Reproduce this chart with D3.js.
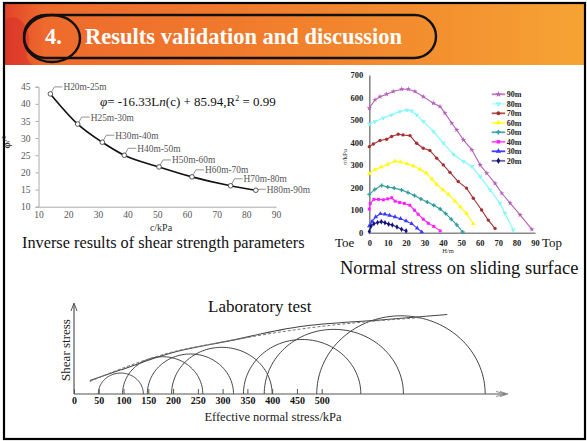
<html>
<head>
  <script src="https://d3js.org/d3.v7.min.js"></script>
  <style>
  body{ margin:0; background:#fff; }
  svg{ display:block; }
  text{ font-family:"Liberation Serif", "Times New Roman", serif; }
  </style>
</head>
<body>
<svg id="slide" width="587" height="441"></svg>
<script type="text/javascript">
    // --- inverse results (left chart) ---
    var layers = ["H20m-25m","H25m-30m","H30m-40m","H40m-50m","H50m-60m","H60m-70m","H70m-80m","H80m-90m"];
    var cohesion = [14, 23.2, 31.5, 38.9, 50.6, 61.7, 74.7, 83.2];
    var phi = [42.9, 34.1, 28.8, 25.0, 21.6, 18.7, 16.1, 14.8];
    var phiTicks = [10, 15, 20, 25, 30, 35, 40, 45];
    var cTicks = [10, 20, 30, 40, 50, 60, 70, 80, 90];

    // --- normal stress on sliding surface (right chart), [H, sigma] ---
    var seriesNames = ["90m","80m","70m","60m","50m","40m","30m","20m"];
    var s90 = [[0,553],[3.1,590],[5.8,604],[9.4,615],[13,627],[17.6,637],[21.2,637],[24.8,627],[29.3,604],[34.8,575],[38.4,560],[41.1,531],[44.8,486],[47.5,456],[51.1,412],[55.7,368],[60.2,301],[63.8,264],[68.3,219],[72,175],[76.5,131],[81.9,79],[88.3,15]];
    var s80 = [[0,483],[3.1,494],[7.6,509],[12.1,523],[16.6,538],[20.4,545],[23,540],[25.7,523],[29.3,494],[34.8,450],[40.2,399],[45.7,347],[51.1,316],[55.7,294],[60.2,249],[65.6,190],[71,131],[73.7,86],[78.2,12]];
    var s70 = [[0,382],[2.2,394],[5.8,409],[9.4,415],[12.1,427],[15.7,437],[18.3,434],[22.1,431],[25.7,397],[29.3,375],[32.9,365],[36.6,331],[40.2,301],[43.8,268],[48.3,227],[52.8,198],[56.5,153],[61,101],[64.6,56],[68.3,19]];
    var s60 = [[0,262],[3,280],[6.5,292],[10,303],[14,318],[17,314],[20.5,306],[24,296],[27.5,282],[31,264],[34,238],[36.6,214],[40,190],[43,170],[46.5,140],[49.5,114],[52.8,85],[56.5,40]];
    var s50 = [[0,170],[3,192],[6.7,210],[10,203],[13.5,198],[17.5,190],[21,178],[24.5,165],[28,150],[31.5,136],[35,122],[38.5,105],[41.5,85],[44.5,60],[47.5,35],[50.7,3]];
    var s40 = [[0,105],[0.5,130],[2.5,148],[5,148],[7.6,146],[10,150],[12.2,155],[14,140],[16.5,134],[19,130],[22,122],[24.5,100],[26.5,82],[29.3,60],[32,42],[35,28],[38.5,8]];
    var s30 = [[0,30],[1.5,50],[3.5,70],[6,84],[8.5,82],[11,77],[14,70],[17,62],[20,52],[23,40],[26,20],[28.5,3]];
    var s20 = [[0,5],[1,30],[2.5,40],[4.5,45],[6.5,49],[8.5,44],[10.5,38],[12.5,34],[15,25],[17.5,15],[20,8]];
    var hTicks = [0, 10, 20, 30, 40, 50, 60, 70, 80, 90];
    var sigmaTicks = [0, 100, 200, 300, 400, 500, 600, 700];

    // --- laboratory test (bottom chart), Mohr circles in kPa ---
    var sigma3 = [49, 98, 148, 197, 342, 384, 490];
    var sigma1 = [140, 260, 322, 400, 579, 665, 830];
    var envelope = [[32,29.5],[93,52],[194,88.6],[315,116],[456.6,146.6],[618,161],[753.5,172.7]];
    var envelope2 = [[32,27],[100,57],[194,90],[300,113],[456,141],[600,158],[700,166]];
    var normalTicks = [0, 50, 100, 150, 200, 250, 300, 350, 400, 450, 500];

    var seriesData = [s90, s80, s70, s60, s50, s40, s30, s20];
    var seriesColor = ["#b461b8","#7ff9fb","#a33232","#ffff00","#339c9c","#ff1fff","#3b3bff","#14147a"];
    var legendColor = ["#c07fc4","#b8ffff","#b85252","#ffff40","#4aa8a8","#ff55ff","#4040ff","#6666aa"];
    var seriesSymbol = [d3.symbolStar, d3.symbolWye, d3.symbolCircle, d3.symbolTriangle,
                        d3.symbolCross, d3.symbolSquare, d3.symbolTriangle, d3.symbolDiamond];

    var svg = d3.select("#slide");

    // slide header
    var defs = svg.append("defs");
    var grad = defs.append("linearGradient").attr("id","hdr");
    grad.append("stop").attr("offset","0").attr("stop-color","#e2432a");
    grad.append("stop").attr("offset","0.07").attr("stop-color","#ee6a2c");
    grad.append("stop").attr("offset","0.4").attr("stop-color","#f07a2c");
    grad.append("stop").attr("offset","0.75").attr("stop-color","#f3902f");
    grad.append("stop").attr("offset","1").attr("stop-color","#f6a434");

    svg.append("rect").attr("x",4).attr("y",3).attr("width",581).attr("height",62)
       .attr("fill","url(#hdr)");
    svg.append("path")
       .attr("d","M5,20 C18,10 34,30 28,48 C24,58 30,64 34,65 L5,65 Z")
       .attr("fill","#d9302a").attr("opacity",0.55);
    svg.append("rect").attr("x",24).attr("y",15).attr("width",412).attr("height",43).attr("rx",21.5)
       .attr("fill","none").attr("stroke","#111").attr("stroke-width",2.4);
    svg.append("ellipse").attr("cx",52).attr("cy",38.5).attr("rx",28).attr("ry",23.5)
       .attr("fill","none").attr("stroke","#111").attr("stroke-width",2.4);
    svg.append("text").attr("x",45).attr("y",44).text("4.")
       .attr("fill","#fff").style("font-size","22.5px").style("font-weight","bold");
    svg.append("text").attr("x",85).attr("y",44).text("Results validation and discussion")
       .attr("fill","#fff").style("font-size","22.5px").style("font-weight","bold");

    // ---------------- left chart ----------------
    var xL = d3.scaleLinear().domain([10, 90]).range([38.5, 276]);
    var yL = d3.scaleLinear().domain([10, 45]).range([206.7, 86.7]);

    var gl = svg.append("g");
    gl.append("g").attr("transform","translate(0,206.7)")
      .call(d3.axisBottom(xL).tickValues(cTicks).tickSize(0).tickPadding(5));
    gl.append("g").attr("transform","translate(38.5,0)")
      .call(d3.axisLeft(yL).tickValues(phiTicks).tickSize(3).tickPadding(5));
    gl.selectAll(".domain").attr("stroke","#aaa");
    gl.selectAll(".tick line").attr("stroke","#aaa");
    gl.selectAll(".tick text").attr("fill","#555")
      .style("font-size","9.5px").style("font-family","Liberation Serif");

    var pts = cohesion.map(function(c,i){ return [c, phi[i]]; });
    gl.append("path").datum(pts)
      .attr("d", d3.line().x(function(d){ return xL(d[0]); }).y(function(d){ return yL(d[1]); })
                 .curve(d3.curveMonotoneX))
      .attr("fill","none").attr("stroke","#111").attr("stroke-width",1.6);

    // leaders + labels
    gl.selectAll(".lead").data(pts).enter().append("path")
      .attr("d", function(d,i){
         var px = xL(d[0]), py = yL(d[1]);
         var last = i == pts.length - 1;
         var ly = last ? py - 1 : py - 7;
         var lx = last ? px + 10 : px + 12;
         return "M"+px+","+py+"L"+(px+4)+","+ly+"L"+lx+","+ly;
      })
      .attr("fill","none").attr("stroke","#777").attr("stroke-width",0.8);
    gl.selectAll(".pt").data(pts).enter().append("circle")
      .attr("cx", function(d){ return xL(d[0]); })
      .attr("cy", function(d){ return yL(d[1]); })
      .attr("r", 2.3).attr("fill","#fff").attr("stroke","#444").attr("stroke-width",0.9);
    gl.selectAll(".lab").data(pts).enter().append("text")
      .attr("x", function(d,i){ return xL(d[0]) + (i == pts.length-1 ? 11 : 13); })
      .attr("y", function(d,i){ return yL(d[1]) + (i == pts.length-1 ? 2.5 : -3.5); })
      .text(function(d,i){ return layers[i]; })
      .attr("fill","#555").style("font-size","9.4px");

    var eq = gl.append("text").attr("x",100).attr("y",106).style("font-size","13px").attr("fill","#111");
    eq.append("tspan").text("φ").style("font-style","italic");
    eq.append("tspan").text("= -16.33L");
    eq.append("tspan").text("n").style("font-style","italic");
    eq.append("tspan").text("(c) + 85.94,R");
    eq.append("tspan").text("2").attr("dy",-5).style("font-size","8px");
    eq.append("tspan").text(" = 0.99").attr("dy",5);

    gl.append("text").attr("x",161).attr("y",230.5).attr("text-anchor","middle")
      .text("c/kPa").style("font-size","10px").attr("fill","#333");
    gl.append("text").attr("transform","translate(10,142) rotate(-90)").attr("text-anchor","middle")
      .text("φ/°").style("font-size","10px").style("font-weight","bold").attr("fill","#333");
    gl.append("text").attr("x",22).attr("y",248)
      .text("Inverse results of shear strength parameters").style("font-size","16.3px").attr("fill","#111");

    // ---------------- right chart ----------------
    var xR = d3.scaleLinear().domain([0, 90]).range([369.3, 535]);
    var yR = d3.scaleLinear().domain([0, 700]).range([232.7, 75]);

    var gr = svg.append("g");
    gr.append("g").attr("transform","translate(0,232.7)")
      .call(d3.axisBottom(xR).tickValues(hTicks).tickSize(0).tickPadding(7));
    gr.append("g").attr("transform","translate(369.3,0)")
      .call(d3.axisLeft(yR).tickValues(sigmaTicks).tickSize(0).tickPadding(6));
    gr.selectAll(".domain").attr("stroke","#888").attr("stroke-width",1.6);
    gr.selectAll(".tick text").attr("fill","#222")
      .style("font-size","8.5px").style("font-weight","bold").style("font-family","Liberation Serif");

    var lineR = d3.line().x(function(d){ return xR(d[0]); }).y(function(d){ return yR(d[1]); });
    seriesData.forEach(function(s, k){
      gr.append("path").datum(s).attr("d", lineR)
        .attr("fill","none").attr("stroke", seriesColor[k]).attr("stroke-width",1.1);
      gr.selectAll(".m"+k).data(s).enter().append("path")
        .attr("transform", function(d){ return "translate("+xR(d[0])+","+yR(d[1])+")"; })
        .attr("d", d3.symbol().type(seriesSymbol[k]).size(9))
        .attr("fill", seriesColor[k]);
    });

    // legend
    var lg = gr.selectAll(".leg").data(seriesNames).enter().append("g")
      .attr("transform", function(d,i){ return "translate(491.7,"+(94.3 + i*9.5)+")"; });
    lg.append("line").attr("x1",0).attr("x2",13.5).attr("y1",0).attr("y2",0)
      .attr("stroke", function(d,i){ return legendColor[i]; }).attr("stroke-width",1.8);
    lg.append("path").attr("transform","translate(6.7,0)")
      .attr("d", function(d,i){ return d3.symbol().type(seriesSymbol[i]).size(12)(); })
      .attr("fill", function(d,i){ return seriesColor[i]; });
    lg.append("text").attr("x",15).attr("y",3).text(function(d){ return d; })
      .style("font-size","8px").style("font-weight","bold").attr("fill","#222");

    gr.append("text").attr("transform","translate(347,157) rotate(-90)").attr("text-anchor","middle")
      .text("σ/kPa").style("font-size","7px").attr("fill","#333");
    gr.append("text").attr("x",448).attr("y",253).attr("text-anchor","middle")
      .text("H/m").style("font-size","6.5px").attr("fill","#333");
    gr.append("text").attr("x",335).attr("y",247).text("Toe").style("font-size","13px").attr("fill","#111");
    gr.append("text").attr("x",542).attr("y",247).text("Top").style("font-size","13px").attr("fill","#111");
    gr.append("text").attr("x",340).attr("y",274).text("Normal stress on sliding surface")
      .style("font-size","18.5px").attr("fill","#111");

    // ---------------- bottom chart ----------------
    var xB = d3.scaleLinear().domain([0, 500]).range([74, 321.7]);
    var yB = d3.scaleLinear().domain([0, 200]).range([394, 302]);
    var gb = svg.append("g");

    var lineB = d3.line().x(function(d){ return xB(d[0]); }).y(function(d){ return yB(d[1]); });
    sigma3.forEach(function(s3, i){
      var c = (s3 + sigma1[i]) / 2, r = (sigma1[i] - s3) / 2;
      var arc = d3.range(0, 73).map(function(j){
        var t = Math.PI * j / 72;
        return [c - r * Math.cos(t), r * Math.sin(t)];
      });
      gb.append("path").datum(arc).attr("d", lineB)
        .attr("fill","none").attr("stroke","#444").attr("stroke-width",1);
    });
    gb.append("path").datum(envelope).attr("d", lineB.curve(d3.curveMonotoneX))
      .attr("fill","none").attr("stroke","#444").attr("stroke-width",1.1);
    gb.append("path").datum(envelope2).attr("d", lineB.curve(d3.curveMonotoneX))
      .attr("fill","none").attr("stroke","#777").attr("stroke-width",1).attr("stroke-dasharray","3,2");

    // axes
    gb.append("line").attr("x1",74).attr("x2",505).attr("y1",394).attr("y2",394)
      .attr("stroke","#555").attr("stroke-width",1.2);
    gb.append("line").attr("x1",74).attr("x2",74).attr("y1",394).attr("y2",304)
      .attr("stroke","#555").attr("stroke-width",1.2);
    gb.append("path").attr("d","M71,311 L74,303 L77,311")
      .attr("fill","none").attr("stroke","#555").attr("stroke-width",1);
    gb.append("path").attr("d","M496,391.5 L506,394 L496,396.5 M500,391.5 L508,394 L500,396.5")
      .attr("fill","none").attr("stroke","#777").attr("stroke-width",0.8);
    var ax = gb.append("g").attr("transform","translate(0,394)")
      .call(d3.axisBottom(xB).tickValues(normalTicks).tickSizeInner(-5).tickSizeOuter(0).tickPadding(3));
    ax.select(".domain").remove();
    ax.selectAll(".tick line").attr("stroke","#555");
    ax.selectAll(".tick text").attr("fill","#111")
      .style("font-size","10px").style("font-weight","bold").style("font-family","Liberation Serif");

    gb.append("text").attr("x",208).attr("y",312).text("Laboratory test").style("font-size","17px").attr("fill","#111");
    gb.append("text").attr("transform","translate(70,350) rotate(-90)").attr("text-anchor","middle")
      .text("Shear stress").style("font-size","13px").attr("fill","#222");
    gb.append("text").attr("x",273).attr("y",421).attr("text-anchor","middle")
      .text("Effective normal stress/kPa").style("font-size","12.5px").attr("fill","#222");

    // slide frame
    svg.append("rect").attr("x",4).attr("y",3).attr("width",581).attr("height",436)
       .attr("fill","none").attr("stroke","#000").attr("stroke-width",2.2);
</script>
</body>
</html>
